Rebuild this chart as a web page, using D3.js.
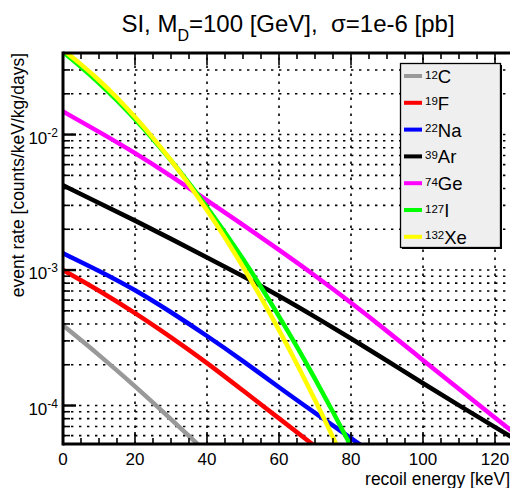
<!DOCTYPE html>
<html>
<head>
<meta charset="utf-8">
<script src="https://cdn.jsdelivr.net/npm/d3@7"></script>
<style>
  body { margin: 0; background: #fff; }
  text { font-family: "Liberation Sans", Arial, Helvetica, sans-serif; white-space: pre; }
</style>
</head>
<body>
<script>
// ---------------- data ----------------
const isotopeMass = ["12", "19", "22", "39", "74", "127", "132"];
const isotopeName = ["C", "F", "Na", "Ar", "Ge", "I", "Xe"];

const energyC  = [0, 10, 20, 30, 38];
const rateC    = [3.9e-4, 2.37e-4, 1.39e-4, 7.94e-5, 5.01e-5];

const energyF  = [0, 10, 20, 30, 40, 50, 60, 70, 72];
const rateF    = [1.0e-3, 7.08e-4, 4.84e-4, 3.2e-4, 2.07e-4, 1.29e-4, 8.04e-5, 5.01e-5, 4.57e-5];

const energyNa = [0, 10, 20, 30, 40, 50, 60, 70, 80, 85];
const rateNa   = [1.33e-3, 9.89e-4, 7.16e-4, 4.9e-4, 3.27e-4, 2.14e-4, 1.36e-4, 8.81e-5, 5.75e-5, 4.62e-5];

const energyAr = [0, 10, 20, 30, 40, 50, 60, 70, 80, 90, 100, 110, 120, 130];
const rateAr   = [4.22e-3, 3.13e-3, 2.32e-3, 1.70e-3, 1.24e-3, 9.02e-4, 6.46e-4, 4.52e-4, 3.13e-4, 2.14e-4, 1.46e-4, 1.0e-4, 6.92e-5, 4.79e-5];

const energyGe = [0, 10, 20, 30, 40, 50, 60, 70, 80, 90, 100, 110, 120, 130];
const rateGe   = [1.48e-2, 1.05e-2, 7.33e-3, 4.95e-3, 3.27e-3, 2.16e-3, 1.41e-3, 9.12e-4, 5.75e-4, 3.55e-4, 2.16e-4, 1.32e-4, 8.13e-5, 5.01e-5];

const energyI  = [0, 5, 10, 15, 20, 25, 30, 35, 40, 45, 50, 55, 60, 65, 70, 75, 80, 85];
const rateI    = [4.07e-2, 3.17e-2, 2.41e-2, 1.79e-2, 1.30e-2, 9.29e-3, 6.46e-3, 4.39e-3, 2.92e-3, 1.90e-3, 1.21e-3, 7.52e-4, 4.57e-4, 2.72e-4, 1.58e-4, 9.0e-5, 5.01e-5, 2.73e-5];

const energyXe = [0, 5, 10, 15, 20, 25, 30, 35, 40, 45, 50, 55, 60, 65, 70, 75, 80];
const rateXe   = [4.22e-2, 3.31e-2, 2.53e-2, 1.88e-2, 1.35e-2, 9.51e-3, 6.48e-3, 4.30e-3, 2.77e-3, 1.74e-3, 1.06e-3, 6.28e-4, 3.62e-4, 2.03e-4, 1.10e-4, 5.85e-5, 3.01e-5];

const xMajorTicks = [0, 20, 40, 60, 80, 100, 120];
const xTickLabels = ["0", "20", "40", "60", "80", "100", "120"];
const yDecades    = [-4, -3, -2];

// ---------------- styles ----------------
const seriesColors = ["#999999", "#ff0000", "#0000ff", "#000000", "#ff00ff", "#00ff00", "#ffff00"];

const series = [
  [energyC, rateC], [energyF, rateF], [energyNa, rateNa], [energyAr, rateAr],
  [energyGe, rateGe], [energyI, rateI], [energyXe, rateXe]
].map(([e, r], i) => ({
  mass: isotopeMass[i], name: isotopeName[i], color: seriesColors[i],
  pts: e.map((x, k) => ({ x, y: r[k] }))
}));

const W = 510, H = 488;
const L = 63, R = 513, T = 53, B = 444;

const svg = d3.select("body").append("svg").attr("width", W).attr("height", H);

const x = d3.scaleLinear().domain([0, 125]).range([L, R]);
const y = d3.scaleLog().domain([5.2e-5, 0.04]).range([B, T]);

// ---------------- grid ----------------
const grid = svg.append("g").attr("stroke", "#000").attr("stroke-width", 1.6)
  .attr("stroke-dasharray", "2.4,5.6").attr("fill", "none");
const yTicksAll = y.ticks().filter(v => y(v) > T + 1 && y(v) < B - 1);
grid.selectAll("line.h").data(yTicksAll).join("line").attr("class", "h")
  .attr("x1", L).attr("x2", R).attr("y1", d => y(d)).attr("y2", d => y(d));
grid.selectAll("line.v").data(xMajorTicks.filter(d => d > 0)).join("line").attr("class", "v")
  .attr("y1", B).attr("y2", T).attr("x1", d => x(d)).attr("x2", d => x(d));

// ---------------- curves ----------------
svg.append("clipPath").attr("id", "plotclip").append("rect")
  .attr("x", L).attr("y", T).attr("width", R - L).attr("height", B - T);

const line = d3.line().x(d => x(d.x)).y(d => y(d.y)).curve(d3.curveBasis);
svg.append("g").attr("clip-path", "url(#plotclip)")
  .selectAll("path").data(series).join("path")
  .attr("d", d => line(d.pts))
  .attr("fill", "none").attr("stroke", d => d.color).attr("stroke-width", 4.5)
  .attr("stroke-linejoin", "round");

// ---------------- frame & ticks ----------------
const frame = svg.append("g").attr("stroke", "#000").attr("fill", "none");
frame.append("line").attr("x1", L).attr("x2", L).attr("y1", T - 1.5).attr("y2", B + 1.5).attr("stroke-width", 3);
frame.append("line").attr("x1", L).attr("x2", R).attr("y1", B).attr("y2", B).attr("stroke-width", 3);
frame.append("line").attr("x1", L).attr("x2", R).attr("y1", T).attr("y2", T).attr("stroke-width", 3);
frame.append("line").attr("x1", R).attr("x2", R).attr("y1", T).attr("y2", B).attr("stroke-width", 3);

const xMinor = d3.range(0, 126, 5).filter(v => !xMajorTicks.includes(v));
const tk = svg.append("g").attr("stroke", "#000").attr("stroke-width", 1.6);
xMajorTicks.forEach(v => {
  tk.append("line").attr("x1", x(v)).attr("x2", x(v)).attr("y1", B).attr("y2", B - 12);
  tk.append("line").attr("x1", x(v)).attr("x2", x(v)).attr("y1", T).attr("y2", T + 12);
});
xMinor.forEach(v => {
  tk.append("line").attr("x1", x(v)).attr("x2", x(v)).attr("y1", B).attr("y2", B - 6);
  tk.append("line").attr("x1", x(v)).attr("x2", x(v)).attr("y1", T).attr("y2", T + 6);
});
y.ticks().filter(v => y(v) >= T && y(v) <= B).forEach(v => {
  const major = Math.abs(Math.log10(v) - Math.round(Math.log10(v))) < 1e-9;
  tk.append("line").attr("x1", L).attr("x2", L + (major ? 13 : 7)).attr("y1", y(v)).attr("y2", y(v))
    .attr("stroke-width", major ? 2.4 : 1.6);
});

// ---------------- tick labels ----------------
svg.append("g").selectAll("text").data(xMajorTicks).join("text")
  .attr("x", d => x(d)).attr("y", 465).attr("text-anchor", "middle")
  .attr("font-size", 17).text((d, i) => xTickLabels[i]);

const yl = svg.append("g").selectAll("text").data(yDecades).join("text")
  .attr("x", 58).attr("y", d => y(Math.pow(10, d)) + 9).attr("text-anchor", "end");
yl.append("tspan").attr("font-size", 17).text("10");
yl.append("tspan").attr("font-size", 12).attr("dy", -7).text(d => String(d));

// ---------------- axis titles ----------------
svg.append("text").attr("x", 510).attr("y", 485).attr("text-anchor", "end")
  .attr("font-size", 17.5).text("recoil energy [keV]");
svg.append("text").attr("transform", `translate(24,${T}) rotate(-90)`)
  .attr("text-anchor", "end").attr("font-size", 17.5).text("event rate [counts/keV/kg/days]");

// ---------------- title ----------------
const title = svg.append("text").attr("x", (L + R) / 2).attr("y", 32).attr("text-anchor", "middle").attr("font-size", 24);
title.append("tspan").text("SI, M");
title.append("tspan").attr("font-size", 16).attr("dy", 9).text("D");
title.append("tspan").attr("dy", -9).text("=100 [GeV],  σ=1e-6 [pb]");

// ---------------- legend ----------------
const lg = svg.append("g");
lg.append("rect").attr("x", 402).attr("y", 65).attr("width", 100).attr("height", 184).attr("fill", "#000");
lg.append("rect").attr("x", 400.5).attr("y", 63.5).attr("width", 100).attr("height", 184)
  .attr("fill", "#efefef").attr("stroke", "#000").attr("stroke-width", 1.3);
const ent = lg.selectAll("g.e").data(series).join("g").attr("class", "e")
  .attr("transform", (d, i) => `translate(0,${76 + i * 26.8})`);
ent.append("line").attr("x1", 404).attr("x2", 422).attr("y1", 0).attr("y2", 0)
  .attr("stroke", d => d.color).attr("stroke-width", 4);
const et = ent.append("text").attr("x", 425).attr("y", 7);
et.append("tspan").attr("font-size", 11.5).attr("dy", -4.5).text(d => d.mass);
et.append("tspan").attr("font-size", 18.5).attr("dy", 4.5).text(d => d.name);
</script>
</body>
</html>
